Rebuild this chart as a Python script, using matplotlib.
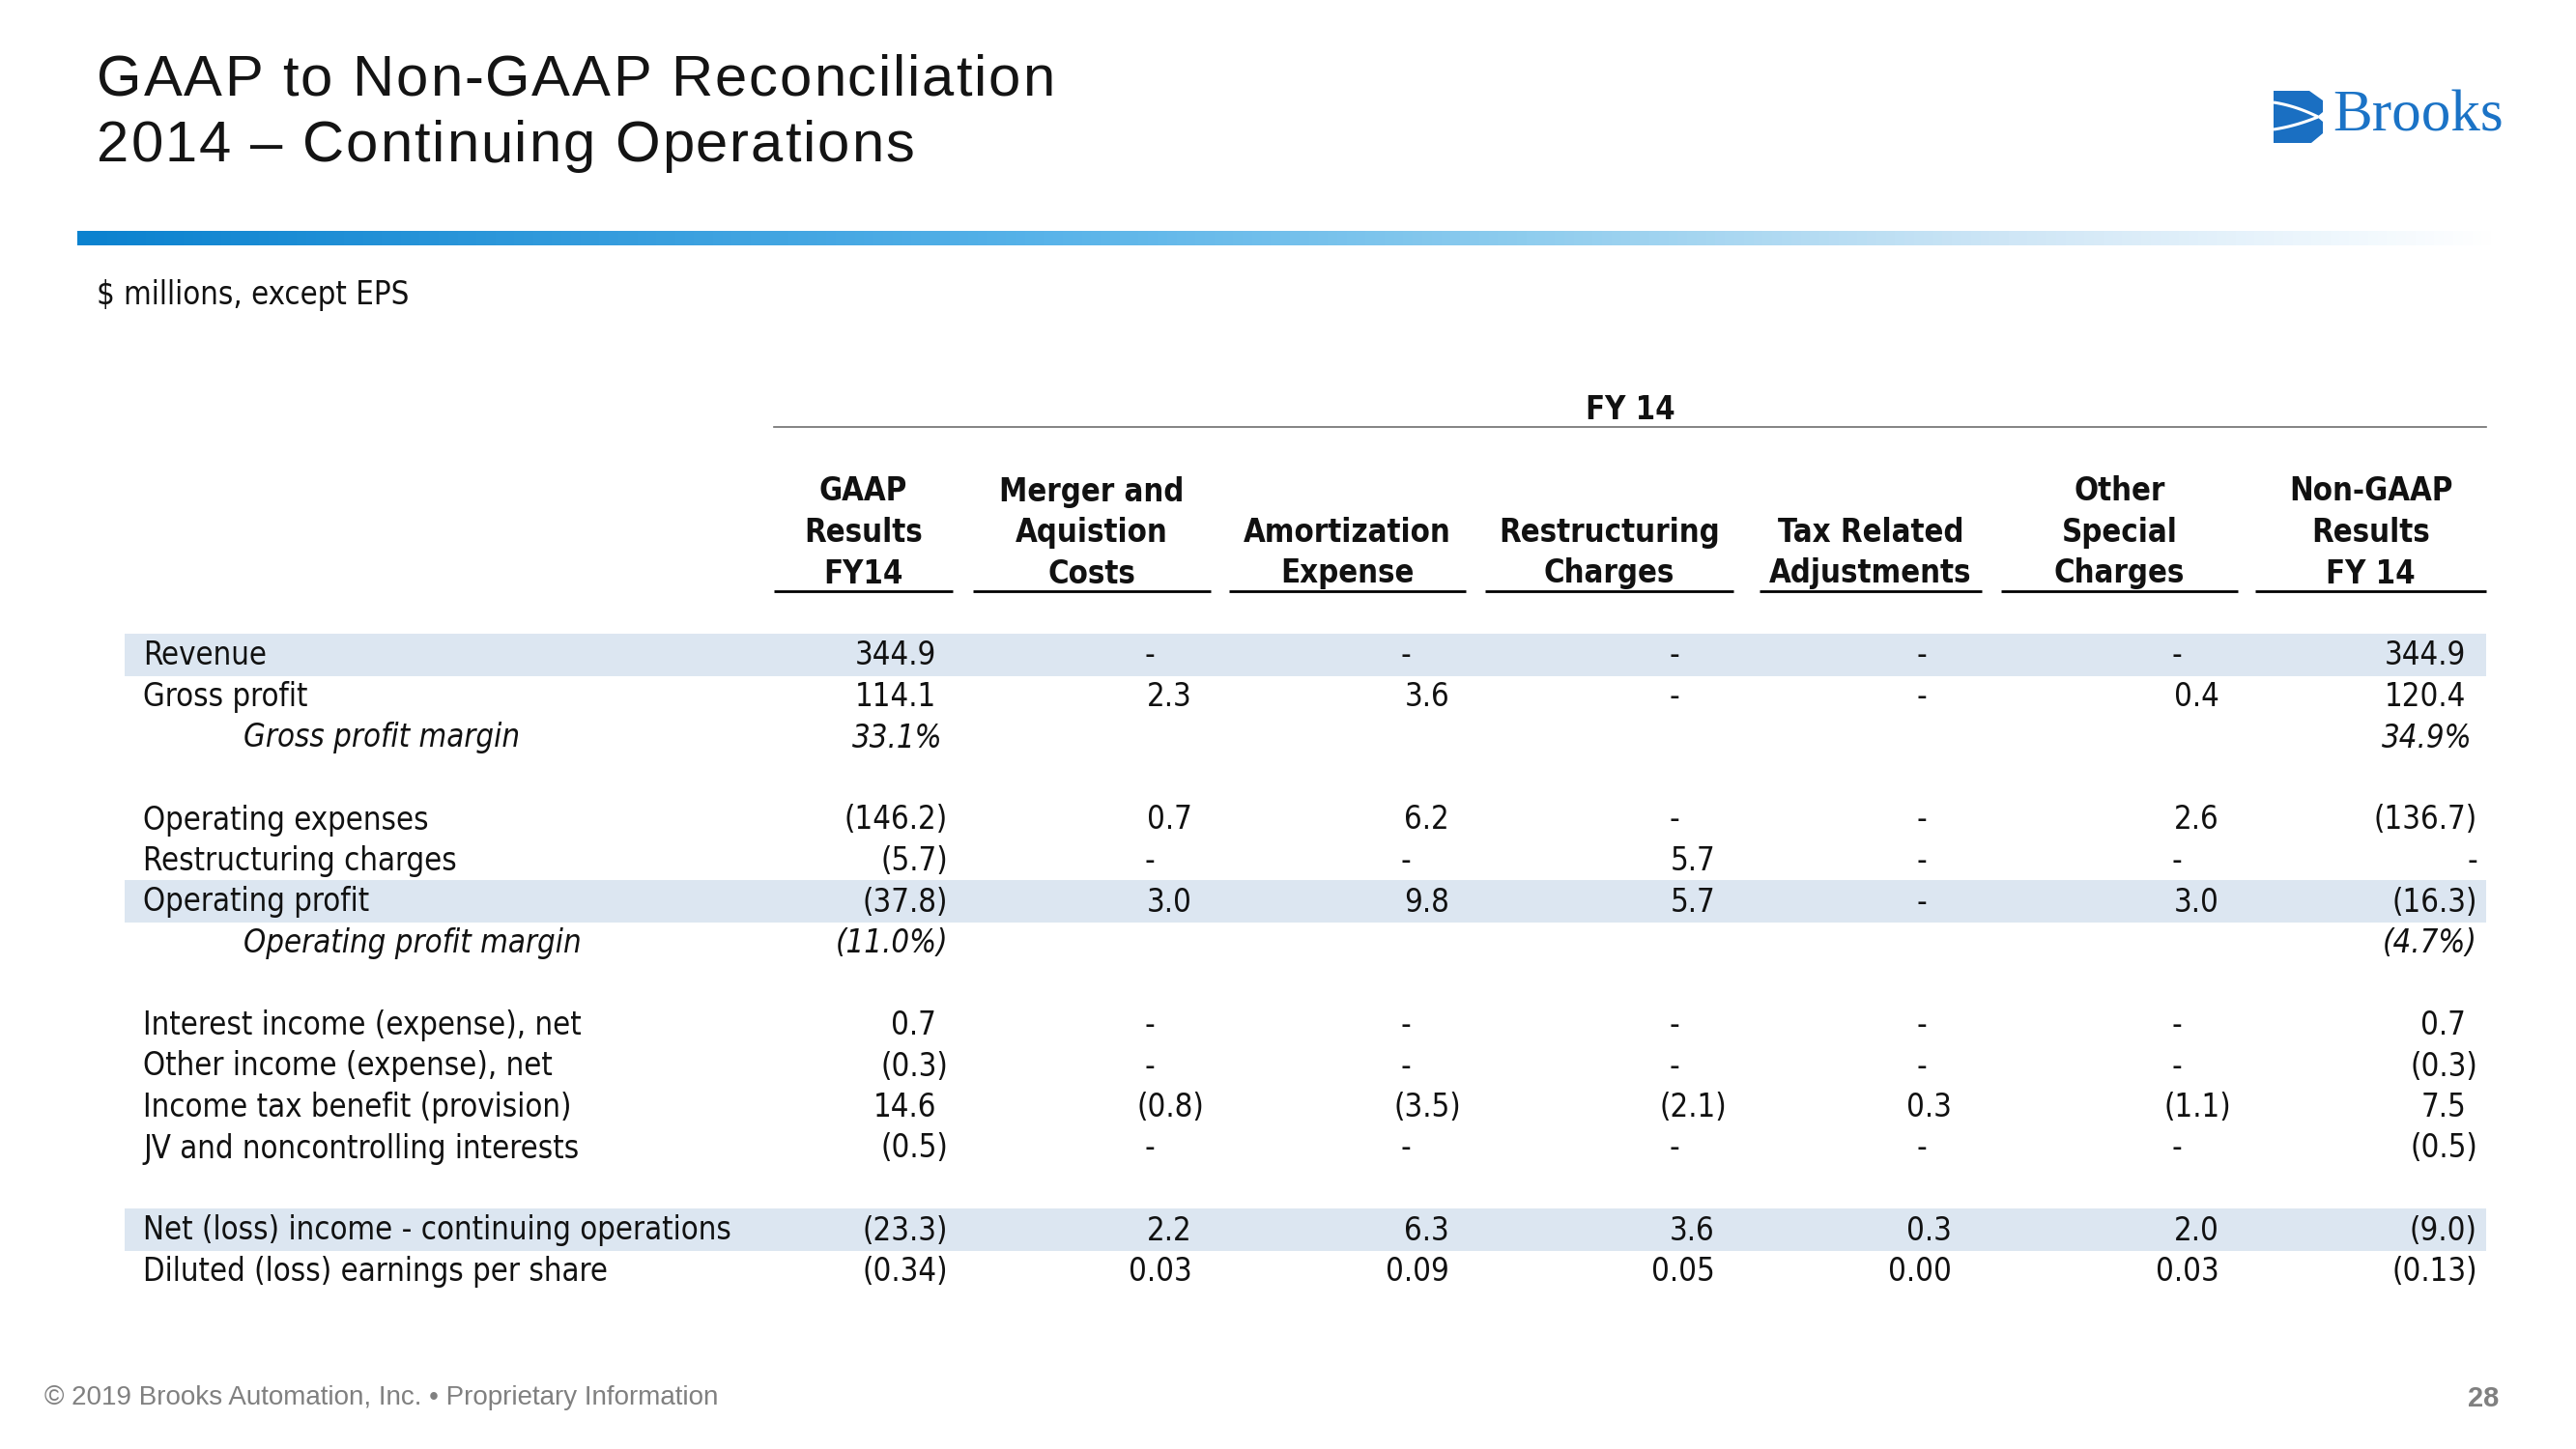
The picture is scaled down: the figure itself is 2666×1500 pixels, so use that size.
import numpy as np
import matplotlib
matplotlib.use("Agg")
import matplotlib.pyplot as plt
from matplotlib.colors import LinearSegmentedColormap
from matplotlib.font_manager import FontProperties, findfont
from matplotlib.ft2font import FT2Font
from matplotlib.patches import Rectangle, Polygon

# ---- data ----
title_lines = ["GAAP to Non-GAAP Reconciliation", "2014 \u2013 Continuing Operations"]
subtitle = "$ millions, except EPS"
group_header = "FY 14"
col_headers = [
    "GAAP\nResults\nFY14",
    "Merger and\nAquistion\nCosts",
    "Amortization\nExpense",
    "Restructuring\nCharges",
    "Tax Related\nAdjustments",
    "Other\nSpecial\nCharges",
    "Non-GAAP\nResults\nFY 14",
]
row_labels = [
    "Revenue", "Gross profit", "Gross profit margin", "",
    "Operating expenses", "Restructuring charges", "Operating profit",
    "Operating profit margin", "",
    "Interest income (expense), net", "Other income (expense), net",
    "Income tax benefit (provision)", "JV and noncontrolling interests", "",
    "Net (loss) income - continuing operations",
    "Diluted (loss) earnings per share",
]
row_kind = ["num", "num", "pct", "gap", "num", "num", "num", "pct", "gap",
            "num", "num", "num", "num", "gap", "num", "eps"]
shaded_rows = ["Revenue", "Operating profit",
               "Net (loss) income - continuing operations"]

gaap = [344.9, 114.1, 33.1, None, -146.2, -5.7, -37.8, -11.0, None,
        0.7, -0.3, 14.6, -0.5, None, -23.3, -0.34]
merger = ["-", 2.3, None, None, 0.7, "-", 3.0, None, None,
          "-", "-", -0.8, "-", None, 2.2, 0.03]
amort = ["-", 3.6, None, None, 6.2, "-", 9.8, None, None,
         "-", "-", -3.5, "-", None, 6.3, 0.09]
restruct = ["-", "-", None, None, "-", 5.7, 5.7, None, None,
            "-", "-", -2.1, "-", None, 3.6, 0.05]
tax_adj = ["-", "-", None, None, "-", "-", "-", None, None,
           "-", "-", 0.3, "-", None, 0.3, 0.00]
other_special = ["-", 0.4, None, None, 2.6, "-", 3.0, None, None,
                 "-", "-", -1.1, "-", None, 2.0, 0.03]
nongaap = [344.9, 120.4, 34.9, None, -136.7, "-", -16.3, -4.7, None,
           0.7, -0.3, 7.5, -0.5, None, -9.0, -0.13]
columns = [gaap, merger, amort, restruct, tax_adj, other_special, nongaap]

footer = "\u00a9 2019 Brooks Automation, Inc. \u2022 Proprietary Information"
page_no = "28"

# ---- layout (pixel coordinates, 2666 x 1500) ----
W, H = 2666, 1500
col_spans = [(801, 986), (1007, 1253), (1272, 1517), (1537, 1794),
             (1821, 2051), (2071, 2316), (2334, 2573)]
col_right = [981, 1246, 1512, 1787, 2032, 2309, 2564]
dash_x = [None, 1190, 1455, 1733, 1989, 2253, 2559]
row_y0, row_step = 679, 42.5
label_x, indent_x = 148, 252
band_x0, band_x1 = 129, 2573

TEXT = "#111111"
BAND = "#dce6f1"


def have_font(**kw):
    try:
        return findfont(FontProperties(**kw), fallback_to_default=False)
    except Exception:
        return None


cond_path = have_font(family="DejaVu Sans", stretch="condensed")
if cond_path and "Condensed" in cond_path:
    tfont = dict(family="DejaVu Sans", fontstretch="condensed")
    TPT = 23.6
else:
    tfont = dict(family="DejaVu Sans")
    TPT = 21.6

title_path = have_font(family="Liberation Sans Narrow")
title_family = "Liberation Sans Narrow"
if not title_path:
    title_path = have_font(family="Liberation Sans")
    title_family = "Liberation Sans"

fig = plt.figure(figsize=(W / 100, H / 100), dpi=100)
ax = fig.add_axes([0, 0, 1, 1])
ax.set_xlim(0, W)
ax.set_ylim(H, 0)
ax.axis("off")


def fmt(v, kind):
    if v is None:
        return ""
    if isinstance(v, str):
        return v
    dec = 2 if kind == "eps" else 1
    s = f"{abs(v):.{dec}f}" + ("%" if kind == "pct" else "")
    return f"({s})" if v < 0 else s


# title with letter spacing
TITLE_PT = 43
font = FT2Font(title_path, hinting_factor=1)
font.set_size(TITLE_PT, 100)


def advances(s):
    return [font.load_char(ord(c)).linearHoriAdvance / 65536 for c in s]


adv0 = advances(title_lines[0])
spacing = (988 - sum(adv0[:-1]) - adv0[-1] * 0.9) / (len(adv0) - 1)
for line, base in zip(title_lines, [99, 167]):
    x = 100
    for ch, a in zip(line, advances(line)):
        ax.text(x, base, ch, fontsize=TITLE_PT, family=title_family,
                color="#141414", ha="left", va="baseline")
        x += a + spacing

# logo
ax.add_patch(Polygon([(2353, 94), (2390, 94), (2404, 104), (2404, 116),
                      (2398, 121), (2404, 126), (2404, 138), (2392, 148),
                      (2353, 148)], closed=True, color="#1a6fc2", lw=0))
t = np.linspace(0, 1, 30)
for y_start, bend in [(106, -8), (134, 6)]:
    xs = 2353 + t * 46
    ys = y_start + (121 - y_start) * t + bend * t * (1 - t)
    ax.plot(xs, ys, color="white", lw=2.2, solid_capstyle="butt")
ax.text(2414, 136, "Brooks", fontsize=44, family="Liberation Serif",
        color="#1b73c6", ha="left", va="baseline")

# gradient bar
stops = [(0.0, "#0b82cf"), (0.4, "#58b3e9"), (0.6, "#8fcdee"),
         (0.8, "#cfe6f6"), (0.93, "#eef7fd"), (1.0, "#ffffff")]
cmap = LinearSegmentedColormap.from_list("bar", stops)
ax.imshow(np.linspace(0, 1, 600)[None, :], cmap=cmap, aspect="auto",
          extent=[80, 2590, 254, 239], interpolation="bilinear")

ax.text(100, 305, subtitle, fontsize=TPT, color=TEXT, ha="left",
        va="center", **tfont)

# header
ax.text((col_spans[0][0] + col_spans[-1][1]) / 2, 424, group_header,
        fontsize=TPT, weight="bold", color=TEXT, ha="center", va="center",
        **tfont)
ax.plot([col_spans[0][0], col_spans[-1][1]], [442, 442], color="#6e6e6e",
        lw=1.2)
for (x0, x1), head in zip(col_spans, col_headers):
    for k, part in enumerate(reversed(head.split("\n"))):
        ax.text((x0 + x1) / 2, 594 - k * 42.5, part, fontsize=TPT,
                weight="bold", color=TEXT, ha="center", va="center", **tfont)
    ax.plot([x0, x1], [612, 612], color="black", lw=2.0,
            solid_capstyle="butt")

# rows
paren_w = 12
for i, (label, kind) in enumerate(zip(row_labels, row_kind)):
    y = row_y0 + i * row_step
    if label in shaded_rows:
        ax.add_patch(Rectangle((band_x0, y - 23), band_x1 - band_x0, 44,
                               color=BAND, lw=0, zorder=0))
    if kind == "gap":
        continue
    italic = kind == "pct"
    ax.text(indent_x if italic else label_x, y, label, fontsize=TPT,
            style="italic" if italic else "normal", color=TEXT, ha="left",
            va="center", **tfont)
    for j, col in enumerate(columns):
        v = col[i]
        s = fmt(v, kind)
        if not s:
            continue
        if s == "-":
            ax.text(dash_x[j], y, s, fontsize=TPT, color=TEXT, ha="center",
                    va="center", **tfont)
            continue
        xr = col_right[j]
        if not s.startswith("("):
            xr -= 5 if italic else paren_w
        ax.text(xr, y, s, fontsize=TPT, color=TEXT, ha="right", va="center",
                style="italic" if italic else "normal", **tfont)

# footer
ax.text(46, 1447, footer, fontsize=20, family="Liberation Sans",
        color="#808080", ha="left", va="center")
ax.text(2586, 1448, page_no, fontsize=21, family="Liberation Sans",
        weight="bold", color="#808080", ha="right", va="center")

fig.savefig("out.png", dpi=100, facecolor="white")
